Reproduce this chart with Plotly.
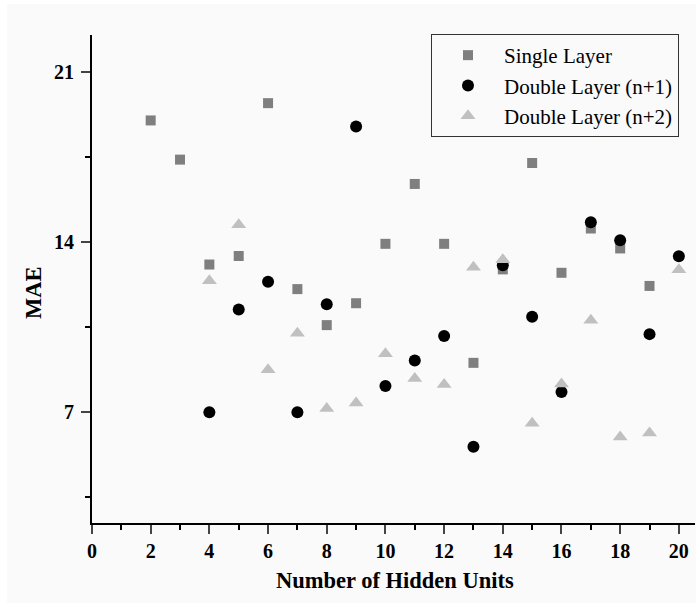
import plotly.graph_objects as go

# Data
single_x = [2, 3, 4, 5, 6, 7, 8, 9, 10, 11, 12, 13, 14, 15, 16, 17, 18, 19]
single_y = [18.99, 17.38, 13.07, 13.42, 19.70, 12.06, 10.58, 11.48, 13.92, 16.38,
            13.92, 9.03, 12.87, 17.24, 12.73, 14.55, 13.73, 12.19]

dbl1_x = [4, 5, 6, 7, 8, 9, 10, 11, 12, 13, 14, 15, 16, 17, 18, 19, 20]
dbl1_y = [7.0, 11.22, 12.36, 7.0, 11.44, 18.74, 8.08, 9.13, 10.13, 5.58, 13.04,
          10.92, 7.83, 14.81, 14.07, 10.21, 13.41]

dbl2_x = [4, 5, 6, 7, 8, 9, 10, 11, 12, 13, 14, 15, 16, 17, 18, 19, 20]
dbl2_y = [12.40, 14.70, 8.75, 10.25, 7.15, 7.38, 9.40, 8.39, 8.14, 12.96, 13.27,
          6.55, 8.16, 10.78, 5.98, 6.15, 12.86]

x_ticks = [0, 2, 4, 6, 8, 10, 12, 14, 16, 18, 20]
y_ticks = [7, 14, 21]

FONT = "Liberation Serif"
BG = "#fafafa"

fig = go.Figure()
fig.add_trace(go.Scatter(x=single_x, y=single_y, mode="markers", name="Single Layer",
                         marker=dict(symbol="square", size=10, color="#7f7f7f")))
fig.add_trace(go.Scatter(x=dbl1_x, y=dbl1_y, mode="markers", name="Double Layer (n+1)",
                         marker=dict(symbol="circle", size=12, color="#000000")))
fig.add_trace(go.Scatter(x=dbl2_x, y=dbl2_y, mode="markers", name="Double Layer (n+2)",
                         marker=dict(symbol="triangle-up", size=13, color="#c0c0c0")))

W, H = 696, 605
L, R, T, B = 92, 1, 35, 82
pw, ph = W - L - R, H - T - B

fig.update_layout(
    width=W, height=H,
    margin=dict(l=L, r=R, t=T, b=B),
    paper_bgcolor="white",
    plot_bgcolor=BG,
    font=dict(family=FONT, color="black"),
    showlegend=True,
    legend=dict(
        x=(431 - L) / pw, y=(H - B - 34) / ph, xanchor="left", yanchor="top",
        bgcolor=BG, bordercolor="#333333", borderwidth=1,
        font=dict(family=FONT, size=21, color="black"),
        itemwidth=62, tracegroupgap=0,
    ),
    xaxis=dict(
        range=[0, 20.55], tickvals=x_ticks, ticks="outside", ticklen=9, tickwidth=2,
        showline=True, linewidth=2, linecolor="black", showgrid=False, zeroline=False,
        tickfont=dict(family=FONT, size=20, weight="bold", color="black"),
        minor=dict(dtick=1, tick0=0, ticks="outside", ticklen=5, tickwidth=2, tickcolor="black", showgrid=False),
    ),
    yaxis=dict(
        range=[2.45, 22.5], tickvals=y_ticks, ticks="outside", ticklen=9, tickwidth=2,
        showline=True, linewidth=2, linecolor="black", showgrid=False, zeroline=False,
        ticklabelstandoff=3,
        tickfont=dict(family=FONT, size=20, weight="bold", color="black"),
        minor=dict(dtick=3.5, tick0=0, ticks="outside", ticklen=5, tickwidth=2, tickcolor="black", showgrid=False),
    ),
    shapes=[dict(type="rect", xref="paper", yref="paper",
                 x0=(7 - L) / pw, x1=1 + R / pw,
                 y0=(H - B - 603) / ph, y1=(H - B - 4) / ph,
                 fillcolor=BG, line=dict(width=0), layer="below")],
    annotations=[
        dict(text="<b>Number of Hidden Units</b>", xref="paper", yref="paper",
             x=(395 - L) / pw, y=(H - B - 580) / ph, xanchor="center", yanchor="middle",
             showarrow=False, font=dict(family=FONT, size=22.5, color="black")),
        dict(text="<b>MAE</b>", xref="paper", yref="paper", textangle=-90,
             x=(33 - L) / pw, y=(H - B - 293) / ph, xanchor="center", yanchor="middle",
             showarrow=False, font=dict(family=FONT, size=22.5, color="black")),
    ],
)

fig.write_html("out.html", config={"displayModeBar": False},
               post_script="document.body.style.margin='0';document.body.style.overflow='hidden';")
